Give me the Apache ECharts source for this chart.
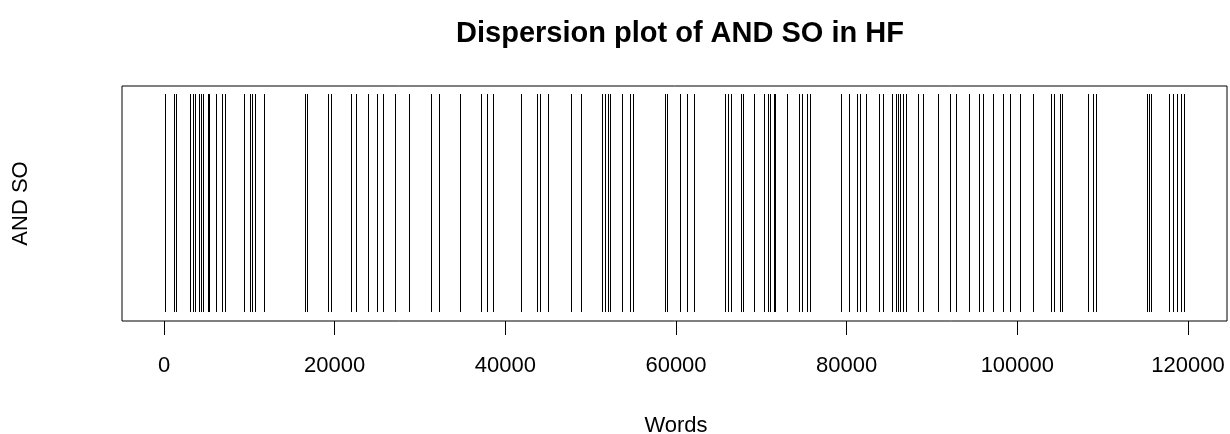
<!DOCTYPE html>
<html>
<head>
<meta charset="utf-8">
<script src="https://cdn.jsdelivr.net/npm/echarts@6/dist/echarts.min.js"></script>
<style>
html,body{margin:0;padding:0;background:#fff;}
#chart{width:1230px;height:434px;}
</style>
</head>
<body>
<div id="chart"></div>
<script>
// Word offsets at which "AND SO" occurs in HF
const occurrences = [
  117, 1172, 1348, 3047, 3340, 3633, 4043, 4336, 4570, 5098, 5273, 6094, 6855, 7090,
  9375, 10020, 10371, 10664, 11719, 16524, 16793, 19254, 19571,
  21915, 22500, 23907, 24961, 25665, 27071, 28711, 31290, 32227, 34688,
  37149, 37852, 38555, 41836, 43711, 44004, 45000, 47696, 48868,
  51329, 51622, 51973, 52208, 53673, 54610, 54961, 58711, 58946,
  60469, 61290, 62110, 65743, 66036, 66387, 67559, 67852, 69141,
  70371, 70723, 71016, 71426, 71602, 73008, 74414, 74766, 75410, 75645,
  79336, 80274, 81211, 81504, 82266, 83789, 84258, 85313, 85723, 86016,
  86250, 86660, 86953, 88359, 88945, 90705, 92111, 92814, 94338,
  95510, 95979, 97151, 98323, 99143, 100315, 101838, 103948, 104241,
  105002, 105237, 108284, 108811, 109163, 115140, 115374, 115608,
  117718, 118186, 118655, 119124, 119475
];
const xTicks = [0, 20000, 40000, 60000, 80000, 100000, 120000];
const titleText = 'Dispersion plot of AND SO in HF';
const xLabel = 'Words';
const yLabel = 'AND SO';

const chart = echarts.init(document.getElementById('chart'), null, {renderer: 'canvas'});
const FONT = 'Liberation Sans, Arial, sans-serif';

chart.setOption({
  animation: false,
  backgroundColor: '#fff',
  textStyle: {fontFamily: FONT},
  title: {
    text: titleText,
    left: 675,
    textAlign: 'center',
    top: 14,
    textStyle: {fontSize: 29, fontWeight: 'bold', color: '#000', fontFamily: FONT}
  },
  grid: [
    {left: 122, right: 3, top: 86, bottom: 113, show: true, borderColor: '#000', borderWidth: 1,
     backgroundColor: 'transparent', containLabel: false, outerBoundsMode: 'none'},
    {left: 164, right: 42, top: 86, bottom: 113, containLabel: false, outerBoundsMode: 'none'}
  ],
  xAxis: [
    {gridIndex: 0, type: 'value', min: 0, max: 1, show: false},
    {
      gridIndex: 1, type: 'value', min: xTicks[0], max: xTicks[xTicks.length - 1], interval: 20000,
      position: 'bottom',
      axisLine: {show: false, onZero: false},
      axisTick: {show: true, length: 14, inside: false, lineStyle: {color: '#000', width: 1}},
      splitLine: {show: false},
      axisLabel: {fontSize: 22, color: '#000', margin: 34, fontFamily: FONT, formatter: v => String(v)},
      name: xLabel, nameLocation: 'middle', nameGap: 94,
      nameTextStyle: {fontSize: 22, color: '#000', fontFamily: FONT}
    }
  ],
  yAxis: [
    {
      gridIndex: 0, type: 'value', min: 0, max: 1,
      axisLine: {show: false}, axisTick: {show: false}, axisLabel: {show: false}, splitLine: {show: false},
      name: yLabel, nameLocation: 'middle', nameGap: 90, nameRotate: 90,
      nameTextStyle: {fontSize: 22, color: '#000', fontFamily: FONT}
    },
    {gridIndex: 1, type: 'value', min: 0, max: 1, show: false}
  ],
  series: [{
    type: 'custom',
    xAxisIndex: 1,
    yAxisIndex: 1,
    data: occurrences.map(v => [v]),
    encode: {x: 0},
    renderItem: function (params, api) {
      const top = api.coord([api.value(0), 0.966]);
      const bot = api.coord([api.value(0), 0.038]);
      const x = Math.round(top[0]) + 0.5;
      return {
        type: 'line',
        shape: {x1: x, y1: Math.round(top[1]), x2: x, y2: Math.round(bot[1])},
        style: {stroke: '#000', lineWidth: 1}
      };
    }
  }]
});
</script>
</body>
</html>
